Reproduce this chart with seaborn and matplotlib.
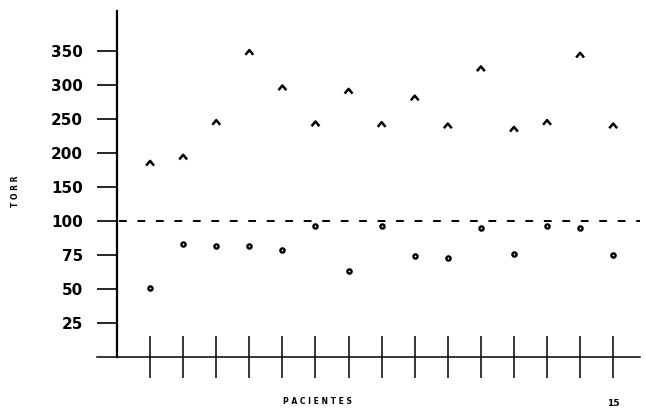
import numpy as np
import pandas as pd
import matplotlib
matplotlib.use("Agg")
import matplotlib.pyplot as plt
from matplotlib.path import Path
import seaborn as sns

# ---- data ----
patients = list(range(1, 16))
upper_torr = [185, 194, 245, 348, 296, 243, 291, 242, 281, 240, 324, 235, 245, 344, 240]
lower_torr = [51, 83, 82, 82, 79, 96, 63, 96, 74, 73, 95, 76, 96, 95, 75]
y_ticks = [25, 50, 75, 100, 150, 200, 250, 300, 350]
x_tick_labels = [""] * 14 + ["15"]
ref_level = 100

sns.set_theme(style="white")
plt.rcParams["font.family"] = ["DejaVu Sans"]
plt.rcParams.update({"text.color": "black", "axes.labelcolor": "black",
                     "xtick.color": "black", "ytick.color": "black"})

W, H = 646, 408
fig = plt.figure(figsize=(W / 100, H / 100), dpi=100)
ax = fig.add_axes([97 / W, (H - 357) / H, (640 - 97) / W, (357 - 11) / H])


def fwd(v):
    v = np.asarray(v, dtype=float)
    return np.where(v <= 100, v / 25.0, 4 + (v - 100) / 50.0)


def inv(p):
    p = np.asarray(p, dtype=float)
    return np.where(p <= 4, p * 25.0, 100 + (p - 4) * 50.0)


ax.set_yscale("function", functions=(fwd, inv))

df = pd.DataFrame({"paciente": patients, "alto": upper_torr, "bajo": lower_torr})

caret = Path([(-1.0, -0.6), (0.0, 0.6), (1.0, -0.6)],
             [Path.MOVETO, Path.LINETO, Path.LINETO])

sns.scatterplot(data=df, x="paciente", y="alto", ax=ax, marker=caret, s=32,
                facecolor="none", edgecolor="black", linewidth=1.8, zorder=3)
sns.scatterplot(data=df, x="paciente", y="bajo", ax=ax, marker="o", s=9,
                facecolor="white", edgecolor="black", linewidth=1.7, zorder=3)

ax.axhline(ref_level, xmin=22 / 543, color="black", lw=1.4, ls=(0, (4, 5.5)), zorder=2)

ax.set_xlim(-0.605, 15.81)
ax.set_ylim(0, 409)

for s in ["top", "right"]:
    ax.spines[s].set_visible(False)
ax.spines["left"].set_position(("data", 0))
ax.spines["left"].set_linewidth(1.6)
ax.spines["left"].set_color("black")
ax.spines["bottom"].set_linewidth(1.1)
ax.spines["bottom"].set_color("black")

ax.set_yticks(y_ticks)
ax.set_yticklabels([str(v) for v in y_ticks], fontsize=11, fontweight="bold")
ax.tick_params(axis="y", direction="out", length=14.4, width=1.2, pad=10,
               color="black", left=True)

ax.set_xticks(patients)
ax.set_xticklabels(x_tick_labels, fontsize=6.5, fontweight="bold")
ax.tick_params(axis="x", direction="inout", length=30, width=1.1, pad=15,
               color="black", bottom=True)

ax.set_xlabel("P A C I E N T E S", fontsize=5.5, fontweight="bold")
ax.xaxis.set_label_coords((317 - 97) / (640 - 97), -(401 - 357) / (357 - 11))
ax.xaxis.label.set_va("center")
ax.set_ylabel("T O R R", fontsize=5.5, fontweight="bold")
ax.yaxis.set_label_coords((16 - 97) / (640 - 97), (357 - 191) / (357 - 11))
ax.yaxis.label.set_va("center")

ax.grid(False)
fig.savefig("out.png", dpi=100)
